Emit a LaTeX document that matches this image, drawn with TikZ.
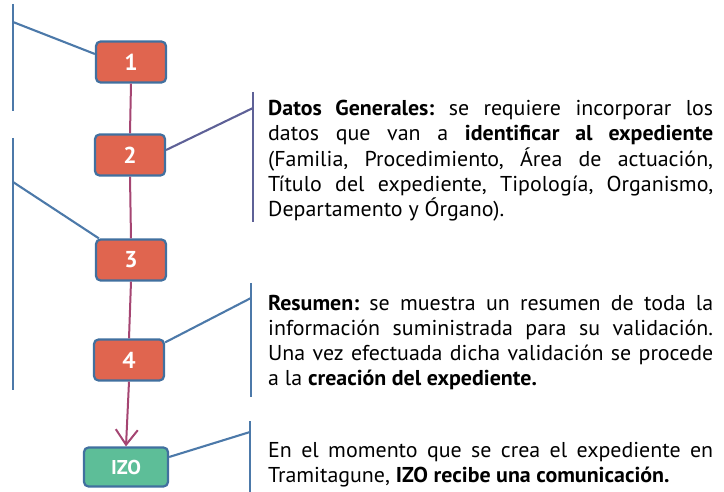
\documentclass[tikz,border=0pt]{standalone}
\usepackage{fontspec}
\setmainfont{PT Sans}[FakeStretch=1.02]
\usetikzlibrary{arrows.meta,calc}
\frenchspacing
\definecolor{boxfill}{HTML}{E0654F}
\definecolor{boxline}{HTML}{41709F}
\definecolor{izofill}{HTML}{5DBE98}
\definecolor{flow}{HTML}{A54572}
\definecolor{brk}{HTML}{4C79A9}
\definecolor{brkp}{HTML}{5E6197}
\newcommand{\fl}[1]{\makebox[445pt][s]{#1}}
\tikzset{
  stepbox/.style={draw=boxline, line width=2.2pt, fill=boxfill, rounded corners=4.5pt,
    minimum width=70pt, minimum height=41pt, inner sep=0pt, text=white,
    font=\fontsize{23}{23}\selectfont\bfseries},
  izobox/.style={stepbox, fill=izofill, minimum width=84pt, minimum height=39pt,
    font=\fontsize{20}{20}\selectfont\bfseries},
  flowline/.style={draw=flow, line width=2pt},
  bracket/.style={draw=brk, line width=2.1pt},
  desc/.style={anchor=base west, inner sep=0pt, text width=445pt, align=justify,
    font=\fontsize{21.5}{25.25}\selectfont\frenchspacing}
}
\begin{document}
\begin{tikzpicture}[x=1pt,y=-1pt]
\useasboundingbox (0,0) rectangle (724,492);
% steps
\node[stepbox] (b1) at (131,62) {1};
\node[stepbox] (b2) at (130,155) {2};
\node[stepbox] (b3) at (131,260) {3};
\node[stepbox] (b4) at (129,360) {4};
\node[izobox] (izo) at (126,467) {IZO};
% flow
\draw[flowline] (b1.south) -- (b2.north);
\draw[flowline] (b2.south) -- (b3.north);
\draw[flowline] (b3.south) -- (b4.north);
\draw[flowline, -{Straight Barb[length=15pt,width=22pt,line width=2pt]}] (b4.south) -- (izo.north);
% left brackets
\coordinate (l1t) at (13,4);
\coordinate (l1b) at (13,111);
\coordinate (l1j) at (13,22);
\draw[bracket] (l1t) -- (l1b);
\draw[bracket] (l1j) -- ($(b1.west)+(0pt,8pt)$);
\coordinate (l2t) at (13,138);
\coordinate (l2b) at (13,390);
\coordinate (l2j) at (13,182);
\draw[bracket] (l2t) -- (l2b);
\draw[bracket] (l2j) -- ($(b3.north west)+(4pt,0pt)$);
% right brackets
\coordinate (r1t) at (253,92);
\coordinate (r1b) at (253,222);
\coordinate (r1j) at (253,108);
\draw[bracket, draw=brkp] (r1t) -- (r1b);
\draw[bracket, draw=brkp] (r1j) -- ($(b2.east)+(0pt,5pt)$);
\coordinate (r2t) at (251,283);
\coordinate (r2b) at (251,397);
\coordinate (r2j) at (251,298);
\draw[bracket] (r2t) -- (r2b);
\draw[bracket] (r2j) -- ($(b4.north east)+(0pt,-4pt)$);
\coordinate (r3t) at (250,421);
\coordinate (r3b) at (250,495);
\coordinate (r3j) at (250,432);
\draw[bracket] (r3t) -- (r3b);
\draw[bracket] (r3j) -- ($(izo.east)+(0pt,10pt)$);
% texts
\node[desc] (t1) at (268,115.7) {\fl{\textbf{Datos Generales:} se requiere incorporar los}\\
\fl{datos que van a \textbf{identificar al expediente}}\\
\fl{(Familia, Procedimiento, Área de actuación,}\\
\fl{Título del expediente, Tipología, Organismo,}\\
Departamento y Órgano).};
\node[desc] (t2) at (268,310) {\fl{\textbf{Resumen:} se muestra un resumen de toda la}\\
\fl{información suministrada para su validación.}\\
\fl{Una vez efectuada dicha validación se procede}\\
a la \textbf{creación del expediente.}};
\node[desc] (t3) at (268,457) {\fl{En el momento que se crea el expediente en}\\
Tramitagune, \textbf{IZO recibe una comunicación.}};
\end{tikzpicture}
\end{document}
